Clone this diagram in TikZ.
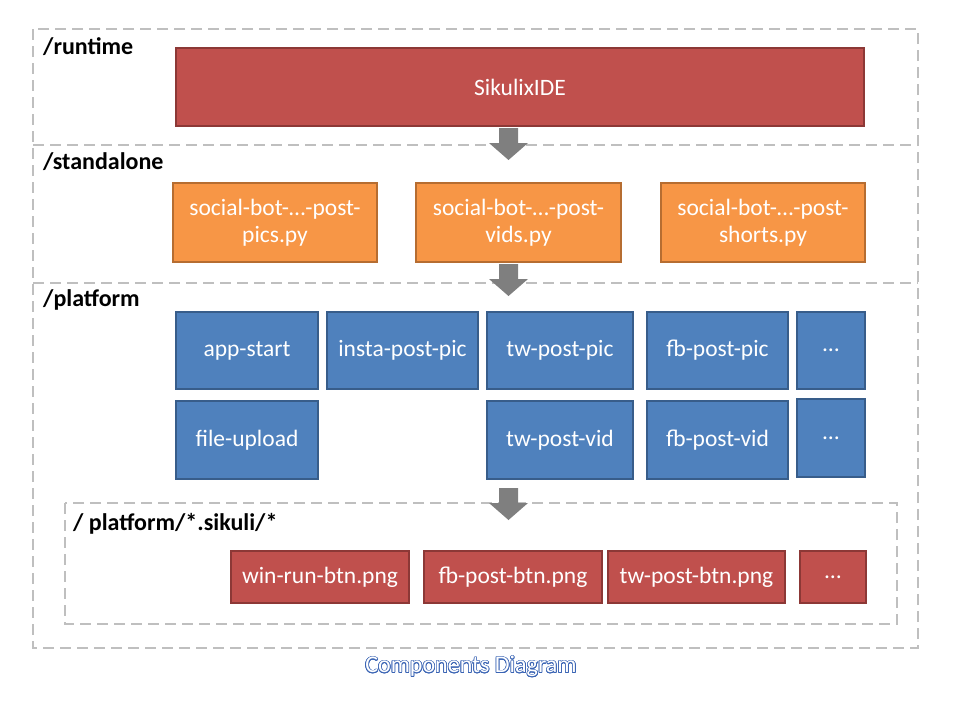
\documentclass[tikz,border=0pt]{standalone}
\usepackage{fontspec}
\setmainfont{Carlito}
\usepackage[copies]{contour}
\contourlength{0.7pt}
\definecolor{redf}{HTML}{C0504D}
\definecolor{redd}{HTML}{8C3836}
\definecolor{oraf}{HTML}{F79646}
\definecolor{orad}{HTML}{B66D31}
\definecolor{bluf}{HTML}{4F81BD}
\definecolor{blud}{HTML}{385D8A}
\definecolor{dashc}{HTML}{BFBFBF}
\definecolor{arrc}{HTML}{7F7F7F}
\definecolor{capc}{HTML}{3A64B4}
\tikzset{
  box/.style={rectangle, line width=2pt, text=white, font=\fontsize{23.5}{27}\selectfont, inner sep=1pt, align=center},
  redbox/.style={box, fill=redf, draw=redd},
  orabox/.style={box, fill=oraf, draw=orad},
  blubox/.style={box, fill=bluf, draw=blud},
  zone/.style={draw=dashc, line width=1.8pt, dash pattern=on 11pt off 6pt},
  zlabel/.style={anchor=north west, inner sep=0pt, font=\fontsize{24}{28}\selectfont\bfseries},
  blockarrow/.style={fill=arrc, draw=none}
}
\newcommand{\bx}[7]{% style, name, x1, y1, x2, y2, text
  \node[#1, minimum width={#5-#3}, minimum height={#6-#4}] (#2) at ({(#3+#5)/2},{(#4+#6)/2}) {#7};}
\begin{document}
\begin{tikzpicture}[x=1pt, y=-1pt]
\useasboundingbox (0,0) rectangle (960,720);
% zones
\draw[zone] (33,29) rectangle (918,648);
\draw[zone] (33,145) -- (918,145);
\draw[zone] (33,283) -- (918,283);
\draw[zone] (65,503) rectangle (897,624);
\node[zlabel] (lrun) at (43,37) {/runtime};
\node[zlabel] (lsta) at (43,152) {/standalone};
\node[zlabel] (lpla) at (43,289) {/platform};
\node[zlabel] (lsik) at (73,513) {/ platform/*.sikuli/*};
% runtime
\bx{redbox}{ide}{176}{48}{864}{126}{SikulixIDE}
% standalone
\bx{orabox}{pics}{173}{183}{377}{262}{social-bot-\dots-post-\\pics.py}
\bx{orabox}{vids}{416}{183}{621}{262}{social-bot-\dots-post-\\vids.py}
\bx{orabox}{shorts}{661}{183}{865}{262}{social-bot-\dots-post-\\shorts.py}
% platform
\bx{blubox}{appstart}{176}{312}{318}{389}{app-start}
\bx{blubox}{insta}{327}{312}{478}{389}{insta-post-pic}
\bx{blubox}{twpic}{487}{312}{633}{389}{tw-post-pic}
\bx{blubox}{fbpic}{647}{312}{788}{389}{fb-post-pic}
\bx{blubox}{dotsa}{797}{312}{865}{389}{\dots}
\bx{blubox}{upload}{176}{401}{318}{479}{file-upload}
\bx{blubox}{twvid}{487}{401}{633}{479}{tw-post-vid}
\bx{blubox}{fbvid}{647}{401}{788}{479}{fb-post-vid}
\bx{blubox}{dotsb}{797}{399}{865}{477}{\dots}
% sikuli
\bx{redbox}{winrun}{231}{551}{409}{603}{win-run-btn.png}
\bx{redbox}{fbbtn}{424}{551}{602}{603}{fb-post-btn.png}
\bx{redbox}{twbtn}{608}{551}{785}{603}{tw-post-btn.png}
\bx{redbox}{dotsc}{800}{551}{866}{603}{\dots}
% block arrows
\fill[blockarrow] (499,128) -- (518,128) -- (518,143) -- (528,143) -- (508.5,160) -- (489,143) -- (499,143) -- cycle;
\fill[blockarrow] (499,264) -- (518,264) -- (518,279) -- (528,279) -- (508.5,296) -- (489,279) -- (499,279) -- cycle;
\fill[blockarrow] (499,488) -- (518,488) -- (518,503) -- (528,503) -- (508.5,520) -- (489,503) -- (499,503) -- cycle;
% caption
\node[font=\fontsize{24}{28}\selectfont] (cap) at (471,667) {\contour{capc}{\textcolor{white}{Components Diagram}}};
\end{tikzpicture}
\end{document}
